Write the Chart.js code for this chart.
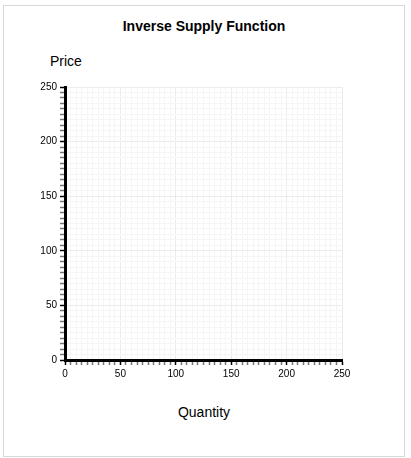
<!DOCTYPE html>
<html>
<head>
<meta charset="utf-8">
<script src="https://cdn.jsdelivr.net/npm/chart.js@4/dist/chart.umd.min.js"></script>
<style>
  html, body { margin: 0; padding: 0; background: #fff; }
  body { width: 411px; height: 458px; position: relative; overflow: hidden; font-family: "Liberation Sans", Arial, sans-serif; }
  .frame { position: absolute; left: 3px; top: 5px; width: 400px; height: 450px; border: 1px solid #d9d9d9; }
  .wrap { position: absolute; left: 0; top: 0; width: 411px; height: 458px; }
  .txt { position: absolute; font-size: 14px; line-height: 16px; color: #000; white-space: nowrap; }
  #title { top: 18px; left: 0; width: 408px; text-align: center; font-weight: bold; }
  #ylabel { top: 53px; left: 50px; }
  #xlabel { top: 404px; left: 0; width: 408px; text-align: center; }
</style>
</head>
<body>
<div class="frame"></div>
<div class="txt" id="title">Inverse Supply Function</div>
<div class="txt" id="ylabel">Price</div>
<div class="txt" id="xlabel">Quantity</div>
<div class="wrap"><canvas id="chart"></canvas></div>
<script>
// no supply curve plotted yet, just the empty axes
const quantities = [];
const prices = [];
const tickLabels = [0, 50, 100, 150, 200, 250];
const axisMin = 0;
const axisMax = 250;
const minorStep = 5;

const points = quantities.map((q, i) => ({ x: q, y: prices[i] }));

function isMajor(ctx) {
    return ctx.tick && tickLabels.includes(ctx.tick.value);
}

function axisOptions(fit) {
    return {
        type: 'linear',
        min: axisMin,
        max: axisMax,
        border: { color: '#000', width: 3 },
        grid: {
            color: ctx => isMajor(ctx) ? '#ececec' : '#f5f5f5',
            lineWidth: 1,
            drawTicks: true,
            tickLength: 5,
            tickWidth: 1.5,
            tickColor: ctx => isMajor(ctx) ? '#000' : '#777'
        },
        ticks: {
            stepSize: minorStep,
            autoSkip: false,
            maxRotation: 0,
            color: '#000',
            font: { family: '"Liberation Sans", Arial, sans-serif', size: 10 },
            padding: 3,
            callback: v => tickLabels.includes(v) ? String(v) : ''
        },
        afterFit: fit
    };
}

new Chart(document.getElementById('chart'), {
    type: 'scatter',
    data: {
        datasets: [{
            label: 'Supply',
            data: points,
            borderColor: '#000',
            backgroundColor: '#000'
        }]
    },
    options: {
        responsive: true,
        maintainAspectRatio: false,
        animation: false,
        layout: { padding: { left: 0, top: 87, right: 69, bottom: 0 } },
        plugins: {
            legend: { display: false },
            tooltip: { enabled: false }
        },
        scales: {
            x: axisOptions(s => { s.height = 98; }),
            y: axisOptions(s => { s.width = 65; })
        }
    }
});
</script>
</body>
</html>
